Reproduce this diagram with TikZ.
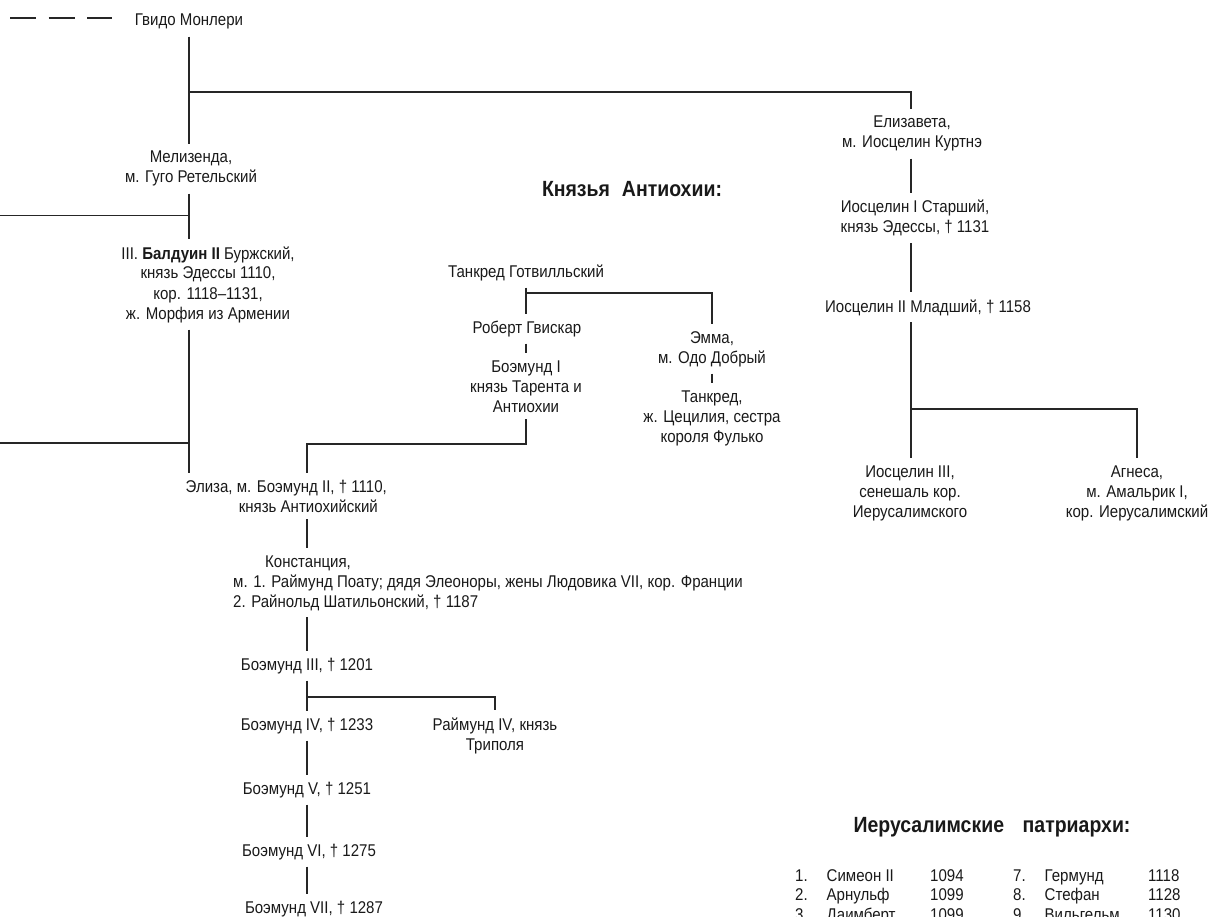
\documentclass[tikz,border=0pt]{standalone}
\usepackage{fontspec}
\setmainfont{Liberation Sans}[FakeStretch=0.885]

\newcommand\chartfont{\fontsize{17}{20}\selectfont}
\newcommand\headfont{\fontsize{22}{24}\selectfont\bfseries}

\begin{document}
\begin{tikzpicture}[
  x=1pt, y=-1pt,
  person/.style={font=\chartfont, align=center, inner sep=0pt, outer ysep=7pt, anchor=base, text=black!90},
  heading/.style={font=\headfont, inner sep=0pt, anchor=base, text=black!90},
  entry/.style={font=\chartfont, inner sep=0pt, anchor=base west, text=black!90},
  line/.style={draw=black!85, line width=1.1pt}
]
\useasboundingbox (0,0) rectangle (1212,917);

% ---------- trunks and forks ----------
\coordinate (trunkL) at (189,0);
\coordinate (trunkA) at (307,0);
\coordinate (trunkT) at (526,0);
\coordinate (trunkE) at (911,0);
\coordinate (anc) at (10,18);
\coordinate (ancEnd) at (112,18);
\coordinate (forkG) at (189,92);
\coordinate (stubA) at (0,215.7);
\coordinate (stubB) at (0,443);
\coordinate (forkE) at (307,444);
\coordinate (forkT) at (526,293);
\coordinate (forkB) at (307,697);
\coordinate (forkJ) at (911,409);

% ---------- Jerusalem line (nodes sit on their last baseline) ----------
\node[person] (guido) at (189,26) {Гвидо Монлери};
\node[person] (melis) at (191,183) {Мелизенда,\\м. Гуго Ретельский};
\node[person] (baldwin) at (208,319) {III. \textbf{Балдуин II} Буржский,\\князь Эдессы 1110,\\кор. 1118–1131,\\ж. Морфия из Армении};
\node[person, align=right, anchor=base east] (eliza) at (387,512) {Элиза, м. Боэмунд II, † 1110,\\князь Антиохийский\hspace*{9pt}};
\node[person, align=left, anchor=base west] (const) at (233,607) {\hspace*{32pt}Констанция,\\м. 1. Раймунд Поату; дядя Элеоноры, жены Людовика VII, кор. Франции\\2. Райнольд Шатильонский, † 1187};
\node[person] (boem3) at (307,670) {Боэмунд III, † 1201};
\node[person] (boem4) at (307,730) {Боэмунд IV, † 1233};
\node[person] (raym4) at (495,750) {Раймунд IV, князь\\Триполя};
\node[person] (boem5) at (307,794) {Боэмунд V, † 1251};
\node[person] (boem6) at (309,856) {Боэмунд VI, † 1275};
\node[person] (boem7) at (314,913) {Боэмунд VII, † 1287};

% ---------- Antioch ----------
\node[heading] (antioch) at (632,197) {Князья\hspace{0.3em} Антиохии:};
\node[person] (tancG) at (526,277) {Танкред Готвилльский};
\node[person] (robert) at (527,333) {Роберт Гвискар};
\node[person] (boem1) at (526,412) {Боэмунд I\\князь Тарента и\\Антиохии};
\node[person] (emma) at (712,363) {Эмма,\\м. Одо Добрый};
\node[person] (tancred) at (712,442) {Танкред,\\ж. Цецилия, сестра\\короля Фулько};

% ---------- Edessa ----------
\node[person] (elizab) at (912,148) {Елизавета,\\м. Иосцелин Куртнэ};
\node[person] (joscI) at (915,233) {Иосцелин I Старший,\\князь Эдессы, † 1131};
\node[person] (joscII) at (928,312) {Иосцелин II Младший, † 1158};
\node[person] (joscIII) at (910,517) {Иосцелин III,\\сенешаль кор.\\Иерусалимского};
\node[person] (agnes) at (1137,517) {Агнеса,\\м. Амальрик I,\\кор. Иерусалимский};

% ---------- connectors ----------
\draw[line, dash pattern=on 26pt off 12.5pt] (anc) -- (ancEnd);
\draw[line] (guido.south -| trunkL) -- (melis.north -| trunkL);
\draw[line] (forkG) -| (elizab.north -| trunkE);
\draw[line] (stubA) -- (stubA -| trunkL);
\draw[line] (melis.south -| trunkL) -- (baldwin.north -| trunkL);
\draw[line] (stubB) -- (stubB -| trunkL);
\draw[line] (baldwin.south -| trunkL) -- (eliza.north -| trunkL);
\draw[line] (boem1.south -| trunkT) |- (forkE) -- (eliza.north -| trunkA);
\draw[line] (eliza.south -| trunkA) -- (const.north -| trunkA);
\draw[line] (const.south -| trunkA) -- (boem3.north -| trunkA);
\draw[line] (boem3.south -| trunkA) -- (boem4.north -| trunkA);
\draw[line] (forkB) -| (raym4.north);
\draw[line] (boem4.south -| trunkA) -- (boem5.north -| trunkA);
\draw[line] (boem5.south -| trunkA) -- (boem6.north -| trunkA);
\draw[line] (boem6.south -| trunkA) -- (boem7.north -| trunkA);

\draw[line] (tancG.south -| trunkT) -- (robert.north -| trunkT);
\draw[line] (forkT) -| (emma.north);
\draw[line] (robert.south -| trunkT) -- (boem1.north -| trunkT);
\draw[line] (emma.south) -- (tancred.north);

\draw[line] (elizab.south -| trunkE) -- (joscI.north -| trunkE);
\draw[line] (joscI.south -| trunkE) -- (joscII.north -| trunkE);
\draw[line] (joscII.south -| trunkE) -- (joscIII.north -| trunkE);
\draw[line] (forkJ) -| (agnes.north);

% ---------- Patriarchs ----------
\node[heading] (patr) at (992,832) {Иерусалимские\hspace{0.6em} патриархи:};
\foreach \num/\who/\yr/\xo/\yo in {
  1/Симеон II/1094/795/881, 2/Арнульф/1099/795/900.5, 3/Даимберт/1099/795/920,
  7/Гермунд/1118/1013/881, 8/Стефан/1128/1013/900.5, 9/Вильгельм/1130/1013/920}
{
  \node[entry] (pnum\num) at (\xo,\yo) {\num.};
  \node[entry] (pname\num) at (\xo+31.5,\yo) {\who};
  \node[entry] (pyear\num) at (\xo+135,\yo) {\yr};
}
\end{tikzpicture}
\end{document}
